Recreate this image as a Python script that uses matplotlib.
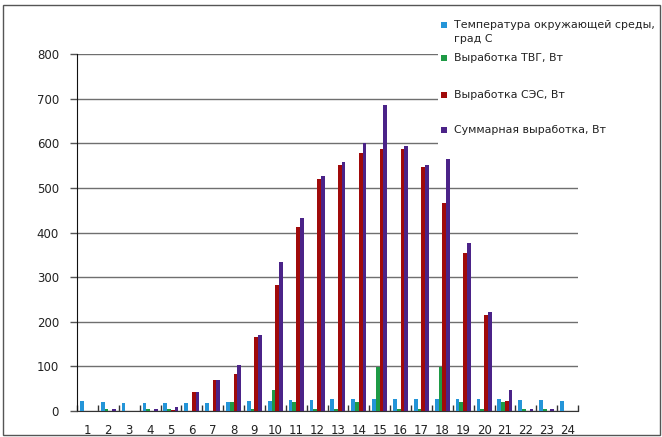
import numpy as np
import matplotlib.pyplot as plt
from matplotlib.patches import Rectangle

# --- data ---
hours = list(range(1, 25))
temperature = [22, 20, 18, 18, 17, 18, 18, 20, 22, 22, 25, 25,
               27, 27, 27, 27, 27, 27, 27, 27, 27, 25, 25, 22]
tvg_power = [0, 5, 0, 5, 5, 0, 0, 20, 5, 48, 20, 5,
             5, 20, 98, 5, 5, 98, 20, 5, 20, 5, 5, 0]
ses_power = [0, 0, 0, 0, 3, 42, 70, 83, 165, 283, 412, 519,
             551, 578, 588, 588, 547, 466, 355, 215, 22, 0, 0, 0]
total_power = [0, 5, 0, 5, 8, 42, 70, 104, 170, 333, 433, 527,
               558, 600, 686, 594, 551, 564, 376, 222, 46, 5, 5, 0]

series_labels = ["Температура окружающей среды,\nград С",
                 "Выработка ТВГ, Вт",
                 "Выработка СЭС, Вт",
                 "Суммарная выработка, Вт"]
series_colors = ["#2495d8", "#1e9a45", "#a00a0a", "#4b2388"]
y_ticks = [0, 100, 200, 300, 400, 500, 600, 700, 800]

W, H = 662, 437
fig = plt.figure(figsize=(W / 100, H / 100), dpi=100)
ax = fig.add_axes([77 / W, 1 - 411 / H, (578 - 77) / W, (411 - 54) / H])

x = np.array(hours)
values = [temperature, tvg_power, ses_power, total_power]
bw = 0.18
offsets = [-1.5 * bw, -0.5 * bw, 0.5 * bw, 1.5 * bw]
for vals, off, col in zip(values, offsets, series_colors):
    ax.bar(x + off, vals, width=bw, color=col, edgecolor="none", zorder=3)

ax.set_xlim(0.5, 24.5)
ax.set_ylim(0, 800)
ax.set_yticks(y_ticks)
ax.set_yticklabels([str(t) for t in y_ticks])
ax.set_xticks(hours)
ax.set_xticklabels([str(h) for h in hours])
ax.set_xticks(np.arange(0.5, 25, 1), minor=True)

ax.yaxis.grid(True, color="#6f6f6f", linewidth=1, zorder=0)
ax.tick_params(axis="y", length=5, width=1, color="#555555", pad=8,
               labelsize=8.5, labelcolor="#222222")
ax.tick_params(axis="x", which="major", length=0, pad=9,
               labelsize=8.5, labelcolor="#222222")
ax.tick_params(axis="x", which="minor", direction="in", length=4,
               width=1, color="#333333")

for side in ["top", "right"]:
    ax.spines[side].set_visible(False)
ax.spines["left"].set_color("#111111")
ax.spines["bottom"].set_color("#333333")

# legend box (white background hides the grid lines behind it)
fig.patches.append(Rectangle((438 / W, 1 - 150 / H), 221 / W, 140 / H,
                             transform=fig.transFigure, facecolor="white",
                             edgecolor="none", zorder=5))
legend_y = [25, 58, 95, 130]
for lab, col, yy in zip(series_labels, series_colors, legend_y):
    fig.patches.append(Rectangle((441 / W, 1 - (yy + 3) / H), 6 / W, 6 / H,
                                 transform=fig.transFigure, facecolor=col,
                                 edgecolor="none", zorder=6))
    fig.text(454 / W, 1 - (yy - 5) / H, lab, fontsize=7.9, color="#222222",
             va="top", ha="left", linespacing=1.5, zorder=7)

# outer chart border
fig.patches.append(Rectangle((3 / W, 1 - 435 / H), 657 / W, 430 / H,
                             transform=fig.transFigure, facecolor="none",
                             edgecolor="#555555", linewidth=1, zorder=8))

fig.savefig("out.png", dpi=100)
